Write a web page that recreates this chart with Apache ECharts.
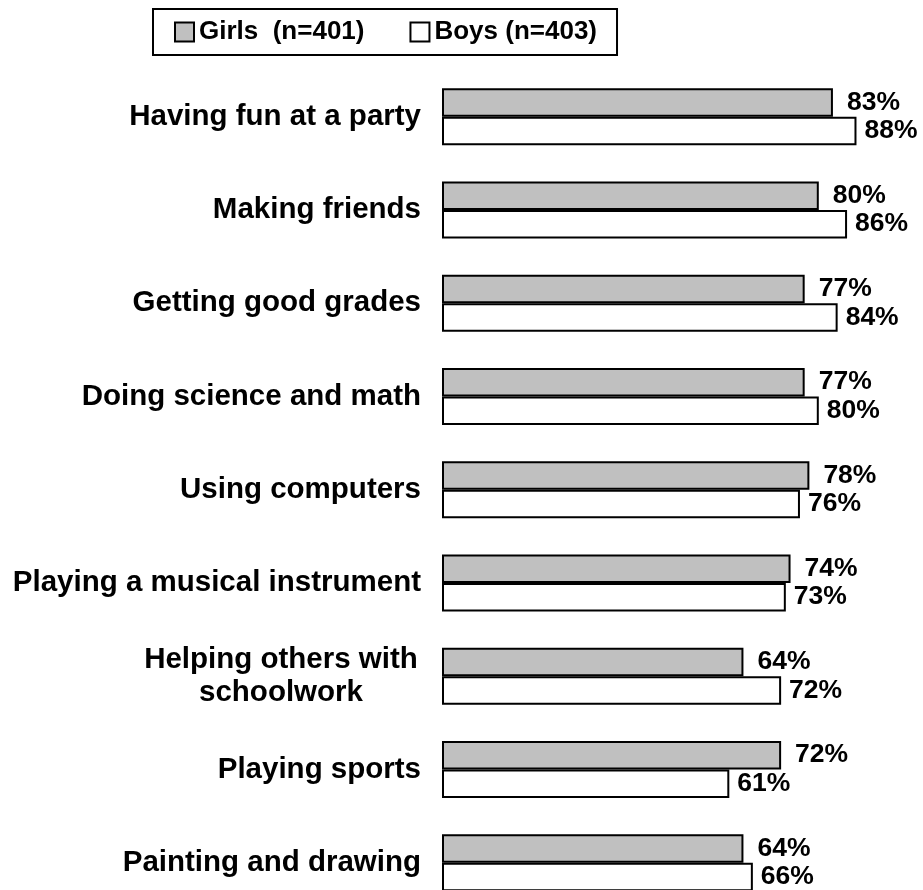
<!DOCTYPE html>
<html>
<head>
<meta charset="utf-8">
<script src="https://cdn.jsdelivr.net/npm/echarts@6/dist/echarts.min.js"></script>
<style>
html,body{margin:0;padding:0;background:#fff;}
#chart{width:923px;height:890px;}
</style>
</head>
<body>
<div id="chart"></div>
<script>
var categories = [
  'Having fun at a party',
  'Making friends',
  'Getting good grades',
  'Doing science and math',
  'Using computers',
  'Playing a musical instrument',
  'Helping others with\nschoolwork',
  'Playing sports',
  'Painting and drawing'
];
var girls = [83, 80, 77, 77, 78, 74, 64, 72, 64];
var boys = [88, 86, 84, 80, 76, 73, 72, 61, 66];
var girlsName = 'Girls  (n=401)';
var boysName = 'Boys (n=403)';

var FONT = '"Liberation Sans", Arial, sans-serif';
var chart = echarts.init(document.getElementById('chart'), null, {renderer: 'canvas'});

chart.setOption({
  animation: false,
  backgroundColor: '#ffffff',
  legend: {
    left: 153,
    top: 9,
    padding: [10, 20, 10, 21],
    borderColor: '#000',
    borderWidth: 2,
    itemWidth: 19,
    itemHeight: 19,
    itemGap: 45,
    icon: 'rect',
    data: [girlsName, boysName],
    textStyle: {fontFamily: FONT, fontWeight: 'bold', fontSize: 26, color: '#000'}
  },
  grid: {left: 442, right: 10, top: 70, height: 839.25, containLabel: false, outerBoundsMode: 'none'},
  xAxis: {type: 'value', min: 0, max: 100, show: false},
  yAxis: {
    type: 'category',
    inverse: true,
    data: categories,
    axisLine: {show: false},
    axisTick: {show: false},
    splitLine: {show: false},
    axisLabel: {
      margin: 21,
      fontFamily: FONT,
      fontWeight: 'bold',
      fontSize: 29.5,
      color: '#000',
      formatter: function (v) {
        if (v.indexOf('\n') >= 0) {
          return v.split('\n').map(function (s) { return '{c|' + s + '}'; }).join('\n');
        }
        return v;
      },
      rich: {
        c: {width: 280, align: 'center', fontFamily: FONT, fontWeight: 'bold', fontSize: 29.5, color: '#000', lineHeight: 33}
      }
    }
  },
  series: [
    {
      name: girlsName,
      type: 'bar',
      data: girls,
      barWidth: 28.5,
      barGap: '0%',
      itemStyle: {color: '#c0c0c0', borderColor: '#000', borderWidth: 2},
      label: {show: true, position: 'right', distance: 14, formatter: '{c}%', fontFamily: FONT, fontWeight: 'bold', fontSize: 26.5, color: '#000'}
    },
    {
      name: boysName,
      type: 'bar',
      data: boys,
      barWidth: 28.5,
      barGap: '0%',
      itemStyle: {color: '#ffffff', borderColor: '#000', borderWidth: 2},
      label: {show: true, position: 'right', distance: 8, formatter: '{c}%', fontFamily: FONT, fontWeight: 'bold', fontSize: 26.5, color: '#000'}
    }
  ]
});
</script>
</body>
</html>
